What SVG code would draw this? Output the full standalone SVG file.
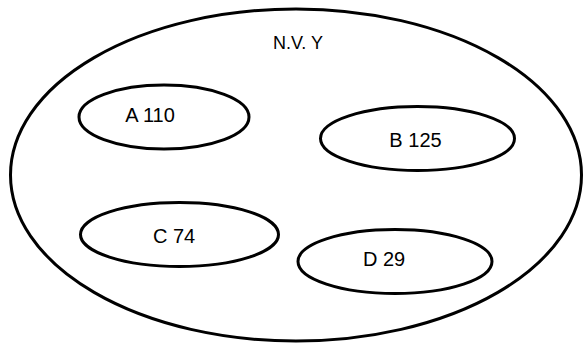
<svg xmlns="http://www.w3.org/2000/svg" width="584" height="345" viewBox="0 0 584 345">
<style>
.e{fill:none;stroke:#000;stroke-width:3}
.t{font-family:"Liberation Sans",Arial,sans-serif;font-size:20px;fill:#000;text-anchor:middle}
</style>
<rect width="584" height="345" fill="#fff"/>
<g id="NVY">
<ellipse class="e" cx="296" cy="175" rx="285.5" ry="166"/>
<text class="t" x="298" y="49" style="font-size:18px">N.V. Y</text>
</g>
<g id="A">
<ellipse class="e" cx="164" cy="117" rx="85" ry="32"/>
<text class="t" x="150" y="122">A 110</text>
</g>
<g id="B">
<ellipse class="e" cx="417.5" cy="138.5" rx="97" ry="32"/>
<text class="t" x="415.5" y="147">B 125</text>
</g>
<g id="C">
<ellipse class="e" cx="179.5" cy="234.5" rx="99" ry="32"/>
<text class="t" x="174" y="243">C 74</text>
</g>
<g id="D">
<ellipse class="e" cx="395" cy="261.5" rx="97" ry="32"/>
<text class="t" x="384" y="266">D 29</text>
</g>
<g id="connectors"/>
</svg>
